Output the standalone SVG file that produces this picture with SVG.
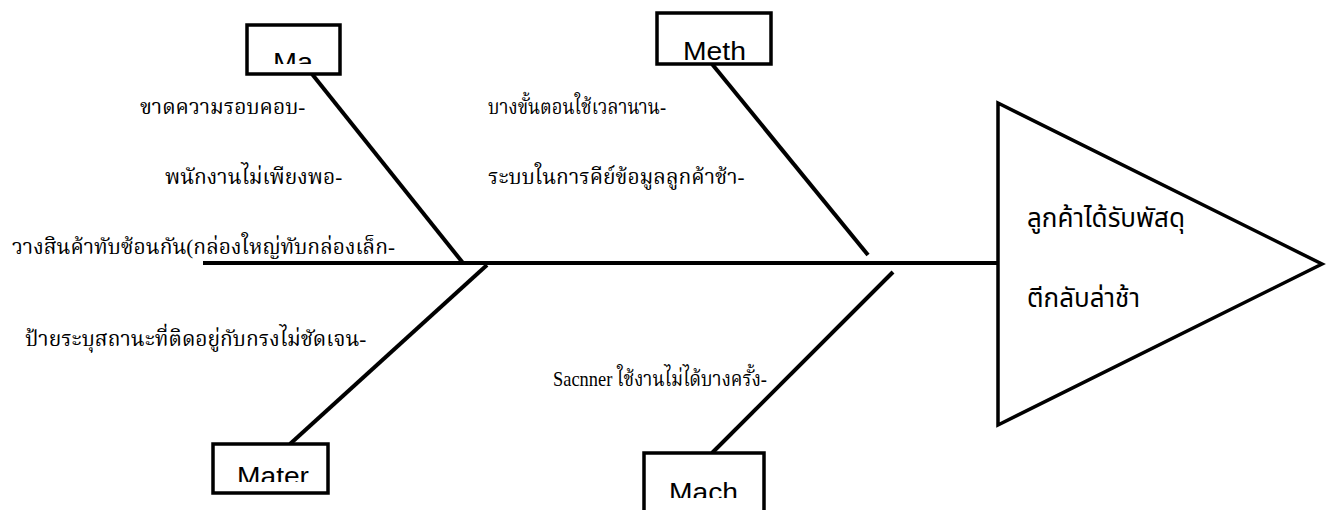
<svg xmlns="http://www.w3.org/2000/svg" width="1327" height="510" viewBox="0 0 1327 510">
<style>
.box{fill:#fff;stroke:#000;stroke-width:3.5}
.ln{stroke:#000;stroke-width:4;fill:none}
.lbl{font-family:"Liberation Sans",Arial,sans-serif;font-size:25px;fill:#000}
.cause{font-family:"Liberation Serif","Noto Serif Thai","Norasi",serif;font-size:21px;fill:#000}
.head{font-family:"Noto Sans","Noto Sans Thai","Loma",sans-serif;font-size:26px;fill:#000}
</style>
<defs>
<clipPath id="cMa"><rect x="249" y="27" width="89" height="37"/></clipPath>
<clipPath id="cMater"><rect x="215" y="446" width="111" height="36"/></clipPath>
<clipPath id="cMach"><rect x="646" y="455" width="116" height="43"/></clipPath>
</defs>
<g id="connectors">
<line class="ln" x1="203" y1="263" x2="997" y2="263"/>
<line class="ln" x1="312" y1="74" x2="463" y2="263"/>
<line class="ln" x1="487" y1="265" x2="290" y2="444"/>
<line class="ln" x1="712" y1="64" x2="868" y2="255"/>
<line class="ln" x1="893" y1="272" x2="712" y2="453"/>
</g>
<g id="node-ma">
<rect class="box" x="247" y="25" width="93" height="49"/>
<text class="lbl" x="273" y="71" textLength="40" lengthAdjust="spacingAndGlyphs" clip-path="url(#cMa)">Ma</text>
</g>
<g id="node-meth">
<rect class="box" x="657" y="13" width="114" height="51"/>
<text class="lbl" x="683" y="60" textLength="63" lengthAdjust="spacingAndGlyphs">Meth</text>
</g>
<g id="node-mater">
<rect class="box" x="213" y="444" width="115" height="49"/>
<text class="lbl" x="237" y="485" textLength="72" lengthAdjust="spacingAndGlyphs" clip-path="url(#cMater)">Mater</text>
</g>
<g id="node-mach">
<rect class="box" x="644" y="453" width="120" height="70"/>
<text class="lbl" x="669" y="501" textLength="69" lengthAdjust="spacingAndGlyphs" clip-path="url(#cMach)">Mach</text>
</g>
<g id="node-head">
<polygon class="box" points="998,103 998,425 1322,264"/>
<text class="head" x="1027" y="227">ลูกค้าได้รับพัสดุ</text>
<text class="head" x="1027" y="307">ตีกลับล่าช้า</text>
</g>
<g id="causes">
<text class="cause" x="140" y="114">ขาดความรอบคอบ-</text>
<text class="cause" x="165" y="184">พนักงานไม่เพียงพอ-</text>
<text class="cause" x="12" y="254">วางสินค้าทับซ้อนกัน(กล่องใหญ่ทับกล่องเล็ก-</text>
<text class="cause" x="25" y="346">ป้ายระบุสถานะที่ติดอยู่กับกรงไม่ชัดเจน-</text>
<text class="cause" x="488" y="114" textLength="178" lengthAdjust="spacingAndGlyphs">บางขั้นตอนใช้เวลานาน-</text>
<text class="cause" x="488" y="184">ระบบในการคีย์ข้อมูลลูกค้าช้า-</text>
<text class="cause" x="553" y="386" textLength="214" lengthAdjust="spacingAndGlyphs">Sacnner ใช้งานไม่ได้บางครั้ง-</text>
</g>
</svg>
